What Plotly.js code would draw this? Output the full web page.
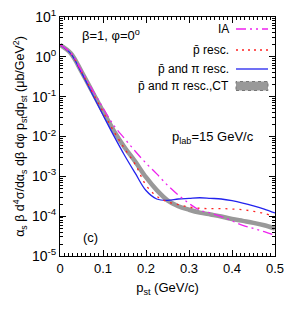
<!DOCTYPE html>
<html><head><meta charset="utf-8">
<script src="https://cdn.plot.ly/plotly-3.0.1.min.js"></script>
<style>body{margin:0;padding:0;background:#fff}#plot{width:300px;height:315px}</style>
</head><body><div id="plot"></div>
<script>
const pst = [0,0.025,0.05,0.075,0.1,0.125,0.15,0.175,0.2,0.225,0.25,0.275,0.3,0.325,0.35,0.375,0.4,0.425,0.45,0.475,0.5];
const ia = [2.0,1.26,0.447,0.151,0.0525,0.0191,0.0089,0.00427,0.00214,0.00115,6.0e-4,3.4e-4,2.09e-4,1.41e-4,1.20e-4,9.8e-5,7.6e-5,5.9e-5,4.9e-5,4.07e-5,3.3e-5];
const pbarResc = [2.0,1.23,0.417,0.132,0.0417,0.0135,0.0050,0.0020,6.0e-4,3.16e-4,2.29e-4,1.95e-4,1.70e-4,1.58e-4,1.55e-4,1.55e-4,1.51e-4,1.45e-4,1.32e-4,1.17e-4,9.5e-5];
const pbarPiResc = [2.0,1.2,0.40,0.117,0.0347,0.0105,0.00339,0.00120,4.4e-4,2.7e-4,2.5e-4,2.7e-4,2.8e-4,2.9e-4,2.8e-4,2.7e-4,2.45e-4,2.14e-4,1.82e-4,1.51e-4,1.20e-4];
const pbarPiRescCT = [2.0,1.23,0.427,0.135,0.0427,0.0141,0.00537,0.00234,9.5e-4,4.5e-4,2.5e-4,1.78e-4,1.45e-4,1.23e-4,1.10e-4,9.8e-5,8.5e-5,7.6e-5,6.8e-5,5.9e-5,4.9e-5];
const legendNames = ["IA","p\u0304 resc.","p\u0304 and \u03c0 resc.","p\u0304 and \u03c0 resc.,CT"];
const yTickVals = [1e-5,1e-4,1e-3,1e-2,1e-1,1,10];
const yTickText = ["10<sup>-5</sup>","10<sup>-4</sup>","10<sup>-3</sup>","10<sup>-2</sup>","10<sup>-1</sup>","10<sup>0</sup>","10<sup>1</sup>"];

const F = "Liberation Sans, Arial, sans-serif";
const traces = [
  {x:pst,y:pbarPiRescCT,mode:'lines',line:{color:'#999999',width:4.5,shape:'spline'}},
  {x:pst,y:pbarPiResc,mode:'lines',line:{color:'#2222ee',width:1.3,shape:'spline'}},
  {x:pst,y:pbarResc,mode:'lines',line:{color:'#ff2222',width:1.3,dash:'2px,5px',shape:'spline'}},
  {x:pst,y:ia,mode:'lines',line:{color:'#ee22ee',width:1.3,dash:'10px,4px,2px,4px,2px,4px',shape:'spline'}}
];
const ax = {showline:true,linecolor:'#000',linewidth:1,mirror:'ticks',ticks:'inside',ticklen:6,tickcolor:'#000',showgrid:false,zeroline:false};
const rowsY = [29,50,69,86];
const annotations = [];
const shapes = [];
function py(p){return 1-(p-17)/239;}
legendNames.forEach((n,i)=>{
  annotations.push({xref:'paper',yref:'paper',x:(231-60)/215,y:py(rowsY[i]),xanchor:'right',yanchor:'middle',text:n,showarrow:false,font:{family:F,size:12,color:'#000'}});
});
const lx0=(236-60)/215, lx1=(268-60)/215;
shapes.push({type:'line',xref:'paper',yref:'paper',x0:lx0,x1:lx1,y0:py(rowsY[0]),y1:py(rowsY[0]),line:{color:'#ee22ee',width:1.3,dash:'10px,4px,2px,4px,2px,4px'}});
shapes.push({type:'line',xref:'paper',yref:'paper',x0:lx0,x1:lx1,y0:py(rowsY[1]),y1:py(rowsY[1]),line:{color:'#ff2222',width:1.3,dash:'2px,4px'}});
shapes.push({type:'line',xref:'paper',yref:'paper',x0:lx0,x1:lx1,y0:py(rowsY[2]),y1:py(rowsY[2]),line:{color:'#2222ee',width:1.3}});
shapes.push({type:'rect',xref:'paper',yref:'paper',x0:lx0,x1:lx1,y0:py(rowsY[3]+4.5),y1:py(rowsY[3]-4.5),fillcolor:'#999999',line:{color:'#777',width:1,dash:'dot'}});
annotations.push({xref:'paper',yref:'paper',x:(80-60)/215,y:py(35),xanchor:'left',yanchor:'middle',text:'\u03b2=1, \u03c6=0<sup>o</sup>',showarrow:false,font:{family:F,size:13,color:'#000'}});
annotations.push({xref:'paper',yref:'paper',x:(170-60)/215,y:py(137),xanchor:'left',yanchor:'middle',text:'p<sub>lab</sub>=15 GeV/c',showarrow:false,font:{family:F,size:13,color:'#000'}});
annotations.push({xref:'paper',yref:'paper',x:(81-60)/215,y:py(237),xanchor:'left',yanchor:'middle',text:'(c)',showarrow:false,font:{family:F,size:13,color:'#000'}});

const layout = {
  width:300,height:315,margin:{l:60,r:25,t:17,b:59},
  paper_bgcolor:'#fff',plot_bgcolor:'#fff',showlegend:false,
  font:{family:F,size:13,color:'#000'},
  xaxis:Object.assign({},ax,{range:[0,0.5],dtick:0.1,tickformat:'',tickfont:{family:F,size:13},
    minor:{dtick:0.01,ticklen:3,ticks:'inside',tickcolor:'#000'},
    title:{text:'p<sub>st</sub> (GeV/c)',font:{family:F,size:13},standoff:8}}),
  yaxis:Object.assign({},ax,{type:'log',range:[-5,1],tickvals:yTickVals,ticktext:yTickText,tickfont:{family:F,size:14},
    minor:{dtick:'D1',ticklen:3,ticks:'inside',tickcolor:'#000'},
    title:{text:'\u03b1<sub>s</sub> \u03b2 d<sup>4</sup>\u03c3/d\u03b1<sub>s</sub> d\u03b2 d\u03c6 p<sub>st</sub>dp<sub>st</sub> (\u03bcb/GeV<sup>2</sup>)',font:{family:F,size:12.5},standoff:4}}),
  annotations:annotations,shapes:shapes
};
Plotly.newPlot('plot',traces,layout,{staticPlot:true,displayModeBar:false});
</script></body></html>
